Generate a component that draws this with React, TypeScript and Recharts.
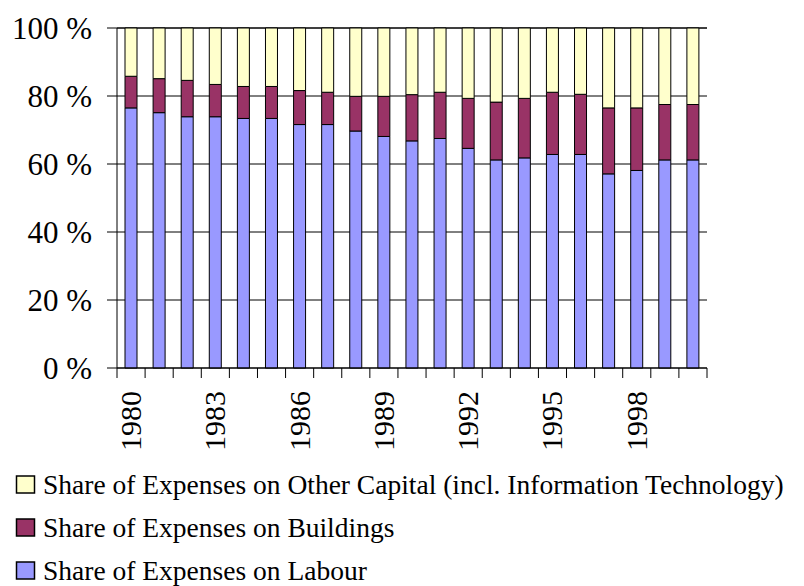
import React from "react";
import { BarChart, Bar, XAxis, YAxis, CartesianGrid, Legend } from "recharts";

if (typeof document !== "undefined") {
  document.body.style.margin = "0";
}

const years = [1980, 1981, 1982, 1983, 1984, 1985, 1986, 1987, 1988, 1989, 1990, 1991, 1992, 1993, 1994, 1995, 1996, 1997, 1998, 1999, 2000];
const labour = [76.5, 75.1, 73.9, 73.9, 73.4, 73.4, 71.6, 71.6, 69.7, 68.1, 66.8, 67.5, 64.6, 61.2, 61.8, 62.8, 62.8, 57.1, 58.1, 61.2, 61.2];
const buildings = [9.3, 10.0, 10.7, 9.5, 9.4, 9.4, 10.0, 9.5, 10.2, 11.8, 13.6, 13.6, 14.7, 17.0, 17.5, 18.3, 17.7, 19.4, 18.4, 16.3, 16.3];
const otherCapital = [14.2, 14.9, 15.4, 16.6, 17.2, 17.2, 18.4, 18.9, 20.1, 20.1, 19.6, 18.9, 20.7, 21.8, 20.7, 18.9, 19.5, 23.5, 23.5, 22.5, 22.5];
const yTicks = [0, 20, 40, 60, 80, 100];
const labelYears = [1980, 1983, 1986, 1989, 1992, 1995, 1998];

const seriesNames: Record<string, string> = {
  labour: "Share of Expenses on Labour",
  buildings: "Share of Expenses on Buildings",
  other: "Share of Expenses on Other Capital (incl. Information Technology)",
};
const seriesColors: Record<string, string> = {
  labour: "#9999FF",
  buildings: "#993366",
  other: "#FFFFCC",
};
const legendOrder = ["other", "buildings", "labour"];

const data = years.map((y, i) => ({
  year: y,
  labour: labour[i],
  buildings: buildings[i],
  other: otherCapital[i],
}));

const FONT = "'Liberation Serif', 'Times New Roman', serif";
const PLOT_W = 590;
const BAND = PLOT_W / years.length;

const XTick = (props: any) => {
  const { x, y, payload, index } = props;
  const yr = Number(payload.value);
  const show = labelYears.includes(yr);
  const last = index === years.length - 1;
  const bx = x + 10;
  const by = y + 23;
  return (
    <g>
      <line x1={x - BAND / 2} y1={y} x2={x - BAND / 2} y2={y + 10} stroke="#000" strokeWidth={1} />
      {last && <line x1={x + BAND / 2} y1={y} x2={x + BAND / 2} y2={y + 10} stroke="#000" strokeWidth={1} />}
      {show && (
        <text
          x={bx}
          y={by}
          transform={`rotate(-90, ${bx}, ${by})`}
          textAnchor="end"
          fontSize={30}
          fontFamily={FONT}
          fill="#000"
        >
          {yr}
        </text>
      )}
    </g>
  );
};

const LegendContent = () => {
  return (
    <div style={{ fontFamily: FONT, fontSize: 27.5, color: "#000" }}>
      {legendOrder.map((k) => (
        <div key={k} style={{ height: 43, display: "flex", alignItems: "center", whiteSpace: "nowrap" }}>
          <svg width={43} height={43} style={{ flex: "none" }}>
            <rect x={16.5} y={13} width={18} height={17} fill={seriesColors[k]} stroke="#000" strokeWidth={1.5} />
          </svg>
          <span>{seriesNames[k]}</span>
        </div>
      ))}
    </div>
  );
};

export default function App() {
  return (
    <BarChart
      width={804}
      height={586}
      data={data}
      margin={{ top: 28, right: 97, left: 0, bottom: 118 }}
      barCategoryGap={0}
    >
      <CartesianGrid vertical={false} stroke="#000" strokeWidth={1} />
      <XAxis
        dataKey="year"
        interval={0}
        height={100}
        tickSize={0}
        tickMargin={0}
        tickLine={false}
        axisLine={{ stroke: "#000", strokeWidth: 1 }}
        tick={<XTick />}
      />
      <YAxis
        width={117}
        domain={[0, 100]}
        ticks={yTicks}
        interval={0}
        tickSize={10}
        tickMargin={15}
        tickFormatter={(v: number) => `${v} %`}
        tick={{ fontSize: 31, fontFamily: FONT, fill: "#000" }}
        tickLine={{ stroke: "#000", strokeWidth: 1 }}
        axisLine={{ stroke: "#000", strokeWidth: 1 }}
      />
      <Legend
        layout="horizontal"
        verticalAlign="middle"
        align="center"
        wrapperStyle={{ top: 463, left: 0, width: 804 }}
        content={<LegendContent />}
      />
      <Bar dataKey="labour" name={seriesNames.labour} stackId="a" fill={seriesColors.labour} stroke="#000" strokeWidth={1} barSize={12} isAnimationActive={false} />
      <Bar dataKey="buildings" name={seriesNames.buildings} stackId="a" fill={seriesColors.buildings} stroke="#000" strokeWidth={1} barSize={12} isAnimationActive={false} />
      <Bar dataKey="other" name={seriesNames.other} stackId="a" fill={seriesColors.other} stroke="#000" strokeWidth={1} barSize={12} isAnimationActive={false} />
    </BarChart>
  );
}
